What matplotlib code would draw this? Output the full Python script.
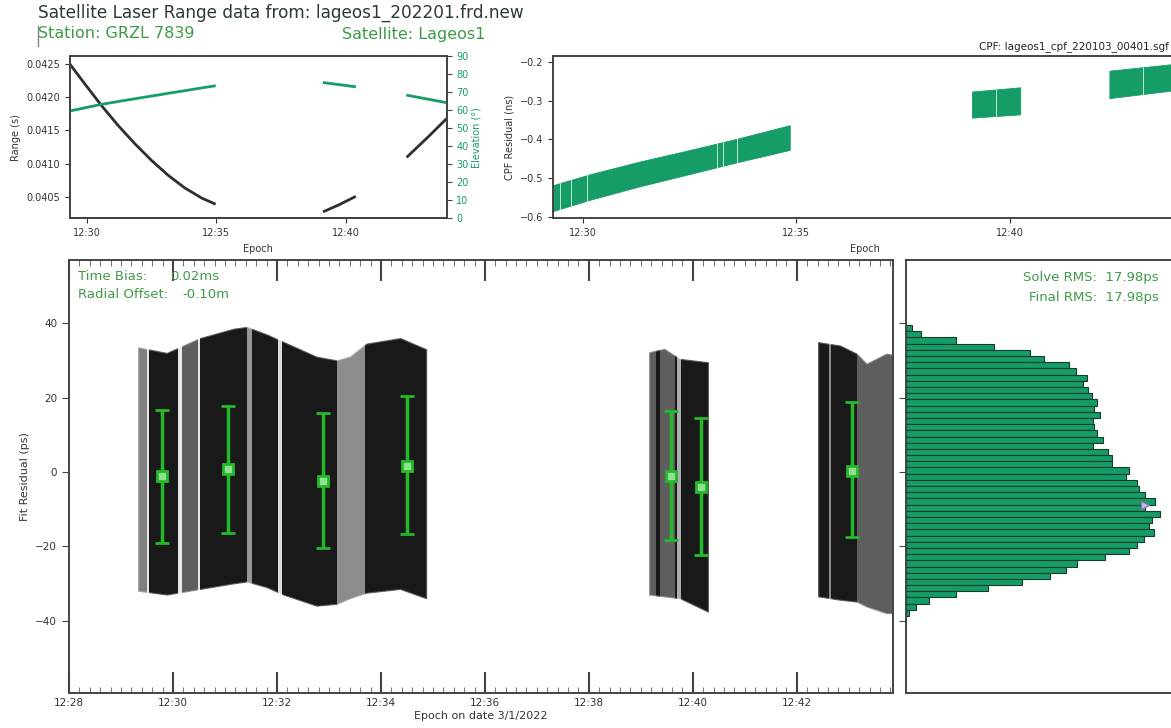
import matplotlib
matplotlib.use("Agg")
import matplotlib.pyplot as plt
import matplotlib.dates as mdates
from matplotlib.ticker import MultipleLocator, FormatStrFormatter
from matplotlib.lines import Line2D
from datetime import datetime, timedelta

# ---- data (times in minutes after 12:00 on 3/1/2022) ----
range_t1 = [29.342, 29.923, 30.566, 31.211, 31.857, 32.50, 33.145, 33.79, 34.434, 34.925]
range_v1 = [0.0425, 0.0422, 0.041875, 0.041575, 0.0413, 0.04105, 0.040825, 0.040635,
            0.040485, 0.0404]
range_t2 = [39.17, 39.75, 40.34]
range_v2 = [0.040285, 0.040385, 0.0405]
range_t3 = [42.39, 43.2, 43.9]
range_v3 = [0.04111, 0.04141, 0.04168]

elev_t1 = [29.342, 30.566, 31.857, 33.145, 34.434, 34.925]
elev_v1 = [59.5, 63.2, 66.3, 69.3, 72.3, 73.4]
elev_t2 = [39.17, 40.34]
elev_v2 = [75.2, 73.0]
elev_t3 = [42.39, 43.9]
elev_v3 = [68.2, 64.1]

cpf_t1 = [29.31, 30.17, 31.34, 32.52, 33.69, 34.85]
cpf_top1 = [-0.518, -0.490, -0.457, -0.427, -0.396, -0.363]
cpf_bot1 = [-0.585, -0.556, -0.521, -0.489, -0.457, -0.427]
cpf_t2 = [39.12, 40.25]
cpf_top2 = [-0.276, -0.265]
cpf_bot2 = [-0.3435, -0.335]
cpf_t3 = [42.34, 43.9]
cpf_top3 = [-0.222, -0.204]
cpf_bot3 = [-0.293, -0.272]
cpf_gaps = [29.48, 29.74, 30.11, 33.15, 33.30, 33.62, 39.70, 43.14]

# fit residual cloud envelopes (ps)
res_t1 = [29.33, 29.88, 30.52, 31.16, 31.42, 31.80, 32.12, 32.76, 33.15, 33.40, 33.72, 34.37, 34.87]
res_top1 = [33.5, 32, 36, 38.5, 39, 37, 35, 31, 30, 31, 34.5, 36, 33]
res_bot1 = [-32, -33, -31.5, -30, -29.5, -31, -33, -36, -35.5, -34, -32.5, -31.5, -34]
res_t2 = [39.16, 39.45, 39.75, 40.29]
res_top2 = [32.2, 33.1, 30.4, 29.5]
res_bot2 = [-33, -33.5, -34, -37.6]
res_t3 = [42.41, 42.83, 43.15, 43.34, 43.72, 43.85]
res_top3 = [34.9, 34, 31.8, 29.1, 31.8, 31.5]
res_bot3 = [-33.5, -34.4, -34.9, -36.2, -38, -38]
# sparse / empty stripes in the cloud: (start, end, lightness)
res_gaps = [(29.33, 29.50, 0.45), (29.50, 29.54, 0.9), (30.10, 30.17, 0.9),
            (30.17, 30.48, 0.3), (30.48, 30.52, 0.9), (31.42, 31.52, 0.55),
            (32.02, 32.10, 0.85), (33.15, 33.69, 0.5),
            (39.16, 39.30, 0.3), (39.37, 39.66, 0.3), (39.70, 39.78, 0.65),
            (42.62, 42.66, 0.5), (43.15, 43.85, 0.3)]

eb_t = [29.79, 31.06, 32.89, 34.51, 39.58, 40.15, 43.06]
eb_mean = [-1.1, 0.7, -2.4, 1.6, -1.1, -4.0, 0.3]
eb_hi = [16.7, 17.8, 15.8, 20.4, 16.5, 14.4, 18.7]
eb_lo = [-19.1, -16.4, -20.5, -16.8, -18.4, -22.5, -17.6]

# histogram of fit residuals, top bin first
hist_top = 39.5
hist_bin = 1.666
hist_counts = [17, 44, 149, 264, 372, 415, 490, 509, 542, 532, 545, 559, 572, 564, 583,
               562, 565, 572, 592, 562, 607, 617, 617, 668, 659, 694, 698, 717, 746, 717,
               762, 737, 729, 745, 714, 694, 669, 597, 512, 480, 431, 347, 245, 150, 68, 30, 9]
peak_count = 717
peak_res = -8.9

base = datetime(2022, 3, 1, 12, 0)
def T(mins):
    return [mdates.date2num(base + timedelta(minutes=m)) for m in mins]

GREEN = '#169c66'
TXT_GREEN = '#3f9a47'
EB_GREEN = '#25b82a'
SPINE = '#444444'

plt.rcParams['font.family'] = 'DejaVu Sans'
fig = plt.figure(figsize=(11.71, 7.28), dpi=100)

W, H = 1171.0, 728.0
def box(l, t, r, b):
    return [l / W, 1 - b / H, (r - l) / W, (b - t) / H]

ax_rng = fig.add_axes(box(70, 56, 446.7, 218.3))
ax_cpf = fig.add_axes(box(553.3, 56, 1176, 218.3))
ax_main = fig.add_axes(box(69, 260, 893, 693))
ax_hist = fig.add_axes(box(906, 260, 1176, 693), sharey=ax_main)

for ax in (ax_rng, ax_cpf, ax_main, ax_hist):
    for s in ax.spines.values():
        s.set_color(SPINE)
        s.set_linewidth(1.4)

# ---- range / elevation ----
for tt, vv in ((range_t1, range_v1), (range_t2, range_v2), (range_t3, range_v3)):
    ax_rng.plot(T(tt), vv, color='#2f2f2f', lw=2, solid_joinstyle='round')
ax_rng.set_ylim(0.04018, 0.04262)
ax_rng.yaxis.set_major_locator(MultipleLocator(0.0005))
ax_rng.yaxis.set_major_formatter(FormatStrFormatter('%.4f'))
ax_rng.set_ylabel('Range (s)', fontsize=7, color='#333333')
ax_rng.set_xlabel('Epoch', fontsize=7, color='#333333')
ax_rng.tick_params(labelsize=7, colors='#333333')

ax_el = ax_rng.twinx()
for tt, vv in ((elev_t1, elev_v1), (elev_t2, elev_v2), (elev_t3, elev_v3)):
    ax_el.plot(T(tt), vv, color=GREEN, lw=2)
ax_el.set_ylim(0, 90)
ax_el.yaxis.set_major_locator(MultipleLocator(10))
ax_el.set_ylabel('Elevation (°)', fontsize=7, color=GREEN, labelpad=2)
ax_el.tick_params(axis='y', labelsize=7, colors=SPINE, labelcolor=GREEN)
for s in ax_el.spines.values():
    s.set_color(SPINE)
    s.set_linewidth(1.4)

for ax in (ax_rng, ax_cpf):
    ax.set_xlim(T([29.35, 43.9]))
    ax.xaxis.set_major_locator(mdates.MinuteLocator(byminute=range(0, 60, 5)))
    ax.xaxis.set_major_formatter(mdates.DateFormatter('%H:%M'))

# ---- CPF residuals ----
for tt, top, bot in ((cpf_t1, cpf_top1, cpf_bot1), (cpf_t2, cpf_top2, cpf_bot2),
                     (cpf_t3, cpf_top3, cpf_bot3)):
    ax_cpf.fill_between(T(tt), bot, top, color=GREEN, lw=0.6, edgecolor=GREEN)
for g in cpf_gaps:
    ax_cpf.axvspan(*T([g - 0.01, g + 0.01]), color='white', alpha=0.7, lw=0)
ax_cpf.set_xlim(T([29.31, 43.9]))
ax_cpf.set_ylim(-0.604, -0.184)
ax_cpf.yaxis.set_major_locator(MultipleLocator(0.1))
ax_cpf.set_ylabel('CPF Residual (ns)', fontsize=7, color='#333333')
ax_cpf.set_xlabel('Epoch', fontsize=7, color='#333333')
ax_cpf.tick_params(labelsize=7, colors='#333333')

# ---- fit residual cloud ----
for tt, top, bot in ((res_t1, res_top1, res_bot1), (res_t2, res_top2, res_bot2),
                     (res_t3, res_top3, res_bot3)):
    ax_main.fill_between(T(tt), bot, top, color='black', alpha=0.9, lw=0.8,
                         edgecolor='#555555')
for t0, t1, a in res_gaps:
    ax_main.axvspan(*T([t0, t1]), color='white', alpha=a, lw=0)

yerr = [[m - lo for m, lo in zip(eb_mean, eb_lo)], [hi - m for m, hi in zip(eb_mean, eb_hi)]]
ax_main.errorbar(T(eb_t), eb_mean, yerr=yerr, fmt='s', color=EB_GREEN, ms=7,
                 mfc='#8fe08f', mec=EB_GREEN, mew=2, elinewidth=2.5,
                 capsize=5, capthick=3, zorder=5)

ax_main.set_xlim(T([28, 43.85]))
ax_main.set_ylim(-59.5, 57)
ax_main.yaxis.set_major_locator(MultipleLocator(20))
ax_main.xaxis.set_major_locator(mdates.MinuteLocator(byminute=range(0, 60, 2)))
ax_main.xaxis.set_minor_locator(mdates.SecondLocator(bysecond=[0, 12, 24, 36, 48]))
ax_main.xaxis.set_major_formatter(mdates.DateFormatter('%H:%M'))
ax_main.tick_params(axis='x', which='major', direction='in', top=True, length=15,
                    width=1.5, colors=SPINE, labelcolor='#333333', labelsize=7.5)
ax_main.tick_params(axis='x', which='minor', direction='in', top=True, length=4,
                    width=0.8, colors='#777777')
ax_main.tick_params(axis='y', labelsize=7.5, colors=SPINE, labelcolor='#333333', length=5)
ax_main.set_xlabel('Epoch on date 3/1/2022', fontsize=8, color='#333333', labelpad=2)
ax_main.set_ylabel('Fit Residual (ps)', fontsize=8, color='#333333')
ax_main.text(0.011, 0.963, 'Time Bias:', transform=ax_main.transAxes, fontsize=9.5,
             color=TXT_GREEN, va='center')
ax_main.text(0.1226, 0.963, '0.02ms', transform=ax_main.transAxes, fontsize=9.5,
             color=TXT_GREEN, va='center')
ax_main.text(0.011, 0.92, 'Radial Offset:', transform=ax_main.transAxes, fontsize=9.5,
             color=TXT_GREEN, va='center')
ax_main.text(0.138, 0.92, '-0.10m', transform=ax_main.transAxes, fontsize=9.5,
             color=TXT_GREEN, va='center')

# ---- histogram ----
centers = [hist_top - hist_bin * (i + 0.5) for i in range(len(hist_counts))]
ax_hist.barh(centers, hist_counts, height=hist_bin, color=GREEN,
             edgecolor='#123d2a', linewidth=0.8)
ax_hist.plot([peak_count], [peak_res], marker='>', ms=6, color='#8a7bb5',
             mfc='#c9c0e0', mew=1, zorder=5)
ax_hist.set_xlim(0, 810)
ax_hist.tick_params(axis='y', labelleft=False, length=5, colors=SPINE)
ax_hist.tick_params(axis='x', bottom=False, labelbottom=False)
fig.text(1159 / W, 1 - 277 / H, 'Solve RMS:  17.98ps', fontsize=9.5, color=TXT_GREEN,
         ha='right', va='center')
fig.text(1159 / W, 1 - 297 / H, 'Final RMS:  17.98ps', fontsize=9.5, color=TXT_GREEN,
         ha='right', va='center')

# ---- header ----
fig.text(38 / W, 1 - 13 / H, 'Satellite Laser Range data from: lageos1_202201.frd.new',
         fontsize=12.2, color='#2b3a33', va='center')
fig.text(38 / W, 1 - 34 / H, 'Station: GRZL 7839', fontsize=11.5, color=TXT_GREEN,
         va='center')
fig.text(342 / W, 1 - 34 / H, 'Satellite: Lageos1', fontsize=11.5, color=TXT_GREEN,
         va='center')
fig.add_artist(Line2D([38 / W, 38 / W], [1 - 26 / H, 1 - 46 / H], color='#888888', lw=1))
fig.text(1169 / W, 1 - 47 / H, 'CPF: lageos1_cpf_220103_00401.sgf', fontsize=7.5,
         color='#222222', ha='right', va='center')

plt.savefig('out.png', dpi=100)
plt.close()
